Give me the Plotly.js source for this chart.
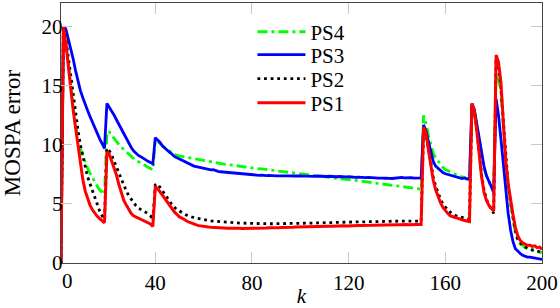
<!DOCTYPE html>
<html>
<head>
<meta charset="utf-8">
<script src="https://cdn.plot.ly/plotly-3.0.1.min.js"></script>
<style>html,body{margin:0;padding:0;background:#fff;}#chart{width:560px;height:308px;}</style>
</head>
<body>
<div id="chart"></div>
<script>
const k = [
  1,2,3,4,5,6,7,8,9,10,11,12,13,14,15,16,17,18,19,20,
  21,22,23,24,25,26,27,28,29,30,31,32,33,34,35,36,37,38,39,40,
  41,42,43,44,45,46,47,48,49,50,51,52,53,54,55,56,57,58,59,60,
  61,62,63,64,65,66,67,68,69,70,71,72,73,74,75,76,77,78,79,80,
  81,82,83,84,85,86,87,88,89,90,91,92,93,94,95,96,97,98,99,100,
  101,102,103,104,105,106,107,108,109,110,111,112,113,114,115,116,117,118,119,120,
  121,122,123,124,125,126,127,128,129,130,131,132,133,134,135,136,137,138,139,140,
  141,142,143,144,145,146,147,148,149,150,151,152,153,154,155,156,157,158,159,160,
  161,162,163,164,165,166,167,168,169,170,171,172,173,174,175,176,177,178,179,180,
  181,182,183,184,185,186,187,188,189,190,191,192,193,194,195,196,197,198,199,200
];

const PS1 = [
  0, 20, 18.6, 16.6, 14.7, 13.0, 11.5, 10.0, 8.4, 7.1,
  6.1, 5.4, 4.9, 4.5, 4.2, 3.95, 3.75, 3.6, 3.4, 9.4,
  9.2, 8.6, 8.0, 7.4, 6.6, 5.9, 5.3, 4.9, 4.5, 4.2,
  4.0, 3.9, 3.8, 3.7, 3.6, 3.5, 3.4, 3.3, 3.1, 6.4,
  6.3, 6.0, 5.7, 5.4, 5.1, 4.8, 4.5, 4.3, 4.1, 3.9,
  3.8, 3.65, 3.55, 3.45, 3.35, 3.28, 3.22, 3.16, 3.12, 3.1,
  3.07, 3.05, 3.03, 3.01, 3.0, 2.99, 2.97, 2.96, 2.95, 2.94,
  2.95, 2.93, 2.94, 2.92, 2.93, 2.92, 2.94, 2.93, 2.92, 2.94,
  2.95, 2.94, 2.96, 2.95, 2.97, 2.96, 2.98, 2.97, 2.99, 3.0,
  2.99, 3.01, 3.0, 3.02, 3.01, 3.03, 3.02, 3.04, 3.05, 3.04,
  3.06, 3.05, 3.07, 3.06, 3.08, 3.07, 3.09, 3.08, 3.1, 3.1,
  3.11, 3.12, 3.11, 3.13, 3.12, 3.14, 3.13, 3.15, 3.14, 3.16,
  3.15, 3.17, 3.16, 3.18, 3.17, 3.19, 3.18, 3.2, 3.19, 3.2,
  3.21, 3.2, 3.22, 3.21, 3.23, 3.22, 3.22, 3.24, 3.23, 3.24,
  3.23, 3.25, 3.24, 3.25, 3.24, 3.26, 3.25, 3.26, 3.25, 3.25,
  11.5, 11.0, 9.6, 8.1, 7.0, 6.2, 5.6, 5.1, 4.7, 4.4,
  4.2, 4.0, 3.9, 3.85, 3.8, 3.7, 3.65, 3.6, 3.55, 3.5,
  13.5, 12.9, 11.2, 9.0, 7.3, 6.0, 5.3, 4.9, 4.6, 4.4,
  17.6, 17.0, 15.3, 11.5, 8.6, 6.7, 5.3, 4.1, 3.0, 2.3,
  1.9, 1.7, 1.6, 1.5, 1.5, 1.4, 1.45, 1.3, 1.35, 1.15
];

const PS2 = [
  0, 20, 19.0, 17.4, 15.8, 14.2, 12.7, 11.3, 10.0, 9.0,
  8.1, 7.3, 6.7, 6.1, 5.5, 4.9, 4.4, 4.0, 3.7, 9.7,
  9.5, 9.1, 8.6, 8.1, 7.5, 7.0, 6.5, 6.1, 5.7, 5.4,
  5.1, 4.85, 4.65, 4.5, 4.4, 4.3, 4.15, 4.0, 3.6, 6.6,
  6.7, 6.4, 6.0, 5.7, 5.4, 5.15, 4.9, 4.7, 4.5, 4.4,
  4.25, 4.15, 4.05, 3.95, 3.9, 3.85, 3.8, 3.75, 3.7, 3.65,
  3.62, 3.6, 3.57, 3.55, 3.52, 3.5, 3.48, 3.46, 3.44, 3.42,
  3.41, 3.4, 3.39, 3.38, 3.37, 3.37, 3.36, 3.36, 3.35, 3.35,
  3.35, 3.34, 3.34, 3.33, 3.33, 3.33, 3.32, 3.32, 3.32, 3.32,
  3.32, 3.32, 3.32, 3.33, 3.33, 3.33, 3.34, 3.34, 3.35, 3.35,
  3.36, 3.36, 3.37, 3.37, 3.38, 3.38, 3.39, 3.39, 3.4, 3.4,
  3.41, 3.42, 3.42, 3.43, 3.44, 3.44, 3.45, 3.45, 3.46, 3.46,
  3.47, 3.47, 3.48, 3.48, 3.49, 3.49, 3.5, 3.5, 3.5, 3.51,
  3.51, 3.51, 3.52, 3.52, 3.52, 3.52, 3.53, 3.53, 3.53, 3.53,
  3.54, 3.54, 3.54, 3.54, 3.55, 3.55, 3.55, 3.55, 3.55, 3.55,
  11.3, 10.9, 9.7, 8.4, 7.3, 6.5, 5.9, 5.4, 5.0, 4.7,
  4.5, 4.3, 4.15, 4.05, 3.95, 3.9, 3.85, 3.8, 3.75, 3.7,
  13.3, 12.8, 11.3, 9.2, 7.5, 6.2, 5.4, 4.9, 4.5, 4.2,
  17.3, 16.6, 14.8, 11.8, 8.7, 6.6, 5.1, 3.8, 2.7, 2.0,
  1.7, 1.5, 1.35, 1.25, 1.2, 1.1, 1.1, 1.0, 0.95, 0.9
];

const PS3 = [
  0, 20, 19.8, 19.0, 18.2, 17.3, 16.3, 15.4, 14.6, 14.0,
  13.4, 12.9, 12.4, 11.9, 11.4, 10.9, 10.5, 10.1, 9.7, 13.5,
  13.2, 12.9, 12.5, 12.1, 11.7, 11.3, 10.9, 10.5, 10.1, 9.8,
  9.5, 9.3, 9.1, 9.0, 8.85, 8.7, 8.6, 8.5, 8.4, 10.6,
  10.4, 10.2, 9.9, 9.7, 9.5, 9.35, 9.2, 9.0, 8.9, 8.8,
  8.7, 8.6, 8.45, 8.4, 8.3, 8.2, 8.15, 8.1, 8.05, 8.0,
  7.95, 7.92, 7.88, 7.9, 7.8, 7.76, 7.72, 7.7, 7.67, 7.64,
  7.62, 7.6, 7.58, 7.56, 7.55, 7.52, 7.5, 7.51, 7.47, 7.45,
  7.46, 7.44, 7.42, 7.44, 7.41, 7.4, 7.42, 7.39, 7.4, 7.38,
  7.37, 7.39, 7.36, 7.38, 7.37, 7.35, 7.38, 7.36, 7.37, 7.36,
  7.35, 7.37, 7.34, 7.36, 7.35, 7.33, 7.36, 7.34, 7.33, 7.35,
  7.32, 7.34, 7.31, 7.33, 7.3, 7.32, 7.29, 7.31, 7.28, 7.3,
  7.27, 7.28, 7.25, 7.27, 7.24, 7.25, 7.22, 7.24, 7.21, 7.22,
  7.2, 7.19, 7.21, 7.18, 7.17, 7.19, 7.16, 7.15, 7.18, 7.2,
  7.22, 7.24, 7.21, 7.23, 7.2, 7.22, 7.19, 7.2, 7.21, 7.2,
  11.7, 11.2, 10.3, 9.3, 8.6, 8.2, 8.0, 7.8, 7.65, 7.55,
  7.5, 7.45, 7.4, 7.3, 7.3, 7.25, 7.15, 7.2, 7.1, 7.1,
  13.5, 13.0, 11.8, 10.6, 9.2, 8.2, 7.4, 6.9, 6.4, 6.0,
  13.9, 12.5, 10.5, 8.4, 6.8, 4.2, 2.8, 1.8, 1.2, 0.95,
  0.8, 0.65, 0.55, 0.5, 0.5, 0.45, 0.45, 0.35, 0.3, 0.3
];

const PS4 = [
  0, 20, 18.8, 16.8, 15.0, 13.3, 11.8, 10.5, 9.7, 9.1,
  8.5, 8.0, 7.6, 7.2, 6.8, 6.5, 6.2, 6.0, 5.8, 11.1,
  11.1, 10.8, 10.5, 10.3, 10.0, 9.8, 9.6, 9.4, 9.2, 9.0,
  8.85, 8.7, 8.55, 8.45, 8.35, 8.2, 8.1, 8.0, 7.9, 10.3,
  10.3, 10.1, 9.9, 9.75, 9.6, 9.45, 9.3, 9.2, 9.1, 9.05,
  9.0, 8.96, 8.92, 8.89, 8.86, 8.82, 8.78, 8.74, 8.7, 8.65,
  8.61, 8.57, 8.53, 8.49, 8.45, 8.43, 8.4, 8.38, 8.35, 8.33,
  8.3, 8.27, 8.24, 8.22, 8.2, 8.16, 8.12, 8.08, 8.04, 8.0,
  7.99, 7.98, 7.97, 7.96, 7.95, 7.92, 7.89, 7.86, 7.83, 7.8,
  7.78, 7.76, 7.74, 7.72, 7.7, 7.67, 7.64, 7.61, 7.58, 7.55,
  7.53, 7.51, 7.49, 7.47, 7.45, 7.42, 7.4, 7.37, 7.35, 7.32,
  7.28, 7.25, 7.21, 7.18, 7.15, 7.13, 7.11, 7.09, 7.07, 7.05,
  7.03, 7.01, 6.99, 6.97, 6.95, 6.92, 6.89, 6.86, 6.83, 6.8,
  6.77, 6.74, 6.71, 6.68, 6.65, 6.62, 6.59, 6.56, 6.53, 6.5,
  6.47, 6.44, 6.41, 6.38, 6.35, 6.33, 6.31, 6.29, 6.27, 6.25,
  12.5, 11.8, 10.8, 10.0, 9.3, 8.9, 8.6, 8.3, 8.1, 7.9,
  7.8, 7.7, 7.6, 7.5, 7.4, 7.35, 7.3, 7.2, 7.15, 7.1,
  13.3, 12.8, 11.5, 10.3, 9.0, 8.0, 7.4, 6.9, 6.5, 6.0,
  16.0, 15.6, 14.5, 11.5, 8.5, 6.5, 5.0, 3.6, 2.6, 1.9,
  1.6, 1.5, 1.3, 1.2, 1.1, 1.1, 1.0, 1.0, 0.9, 0.9
];

const xTicks = [40, 80, 120, 160, 200];
const yTicks = [0, 5, 10, 15, 20];

const FONT = 'Liberation Serif';
const mkFont = (s) => ({family: FONT, size: s, color: '#000000'});

const traces = [
  {x: k, y: PS4, name: 'PS4', legend: 'legend', mode: 'lines', line: {color: '#00ff00', width: 2.8, dash: '10px,4px,3px,4px'}},
  {x: k, y: PS3, name: 'PS3', legend: 'legend2', mode: 'lines', line: {color: '#0000ff', width: 2.8}},
  {x: k, y: PS2, name: 'PS2', legend: 'legend3', mode: 'lines', line: {color: '#000000', width: 2.8, dash: '2.8px,3.8px'}},
  {x: k, y: PS1, name: 'PS1', legend: 'legend4', mode: 'lines', line: {color: '#ff0000', width: 3}}
];

function axis(extra) {
  return Object.assign({
    showgrid: false, zeroline: false,
    showline: true, linecolor: '#444', linewidth: 1.3, mirror: 'ticks',
    ticks: 'inside', ticklen: 11, tickcolor: '#c8c8c8', tickwidth: 1,
    tickfont: mkFont(21)
  }, extra);
}

function leg(yc) {
  return {x: 0.398, y: yc, xanchor: 'left', yanchor: 'middle', bgcolor: 'rgba(0,0,0,0)',
          borderwidth: 0, font: mkFont(21), itemwidth: 48};
}

const layout = {
  width: 560, height: 308,
  font: mkFont(20),
  margin: {l: 61, r: 18, t: 3, b: 45},
  paper_bgcolor: '#fff', plot_bgcolor: '#fff',
  showlegend: true,
  legend: leg(0.888),
  legend2: leg(0.8),
  legend3: leg(0.708),
  legend4: leg(0.615),
  xaxis: axis({range: [1, 200], tickvals: xTicks,
    title: {text: '<i>k</i>', font: mkFont(21), standoff: 2}}),
  yaxis: axis({range: [0, 22], tickvals: yTicks, ticklabelstandoff: -7,
    title: {text: 'MOSPA error', font: mkFont(23), standoff: 26}}),
  annotations: [{text: '0', x: 3.5, xref: 'x', y: 0, yref: 'paper', yanchor: 'top', showarrow: false,
                 yshift: -4, font: mkFont(21)}]
};

Plotly.newPlot('chart', traces, layout, {displayModeBar: false, staticPlot: true});
</script>
</body>
</html>
